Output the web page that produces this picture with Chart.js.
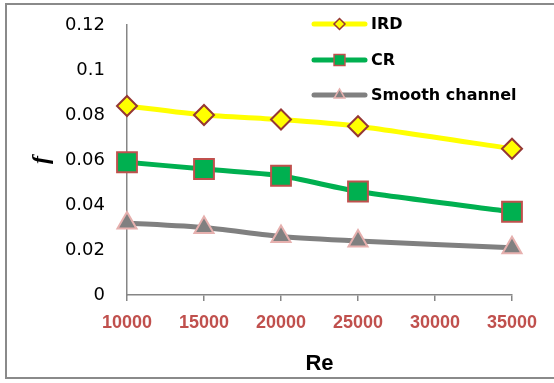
<!DOCTYPE html>
<html>
<head>
<meta charset="utf-8">
<script src="https://cdn.jsdelivr.net/npm/chart.js@4.4.0/dist/chart.umd.min.js"></script>
<style>
  html, body { margin: 0; padding: 0; background: #fff; overflow: hidden; }
  #wrap { position: relative; width: 554px; height: 383px; overflow: hidden; }
  #frame { position: absolute; left: 5px; top: 3px; width: 549px; height: 376px;
           border: 2px solid #8a8a8a; border-right: none; box-sizing: border-box; }
  canvas { position: absolute; left: 0; top: 0; }
</style>
</head>
<body>
<div id="wrap">
  <div id="frame"></div>
  <canvas id="chartCanvas" width="554" height="383"></canvas>
</div>
<script>
// --- data ---
const reynolds = [10000, 15000, 20000, 25000, 35000];
const irdF = [0.084, 0.080, 0.078, 0.075, 0.065];
const crF = [0.059, 0.056, 0.053, 0.046, 0.037];
const smoothF = [0.032, 0.030, 0.026, 0.024, 0.021];
const seriesNames = ['IRD', 'CR', 'Smooth channel'];
const yTickLabels = ['0', '0.02', '0.04', '0.06', '0.08', '0.1', '0.12'];

const toPoints = (ys) => reynolds.map((x, i) => ({ x: x, y: ys[i] }));

// legend drawn inside the plot, top right (Excel style)
const insideLegend = {
    id: 'insideLegend',
    afterDatasetsDraw(chart) {
        const ctx = chart.ctx;
        const rows = [24, 60, 95];
        chart.data.datasets.forEach((ds, i) => {
            const y = rows[i];
            ctx.save();
            ctx.strokeStyle = ds.borderColor;
            ctx.lineWidth = ds.borderWidth;
            ctx.lineCap = 'round';
            ctx.beginPath();
            ctx.moveTo(314, y);
            ctx.lineTo(365, y);
            ctx.stroke();
            ctx.fillStyle = ds.pointBackgroundColor;
            ctx.strokeStyle = ds.pointBorderColor;
            ctx.lineWidth = 1.5;
            Chart.helpers.drawPoint(ctx, {
                pointStyle: ds.pointStyle, radius: ds.pointRadius * 0.55,
                rotation: 0, borderWidth: 1.5
            }, 339.5, y);
            ctx.fillStyle = '#000';
            ctx.font = 'bold 16px "DejaVu Sans"';
            ctx.textBaseline = 'middle';
            ctx.fillText(ds.label, 371, y + 1);
            ctx.restore();
        });
    }
};

const ctxChart = document.getElementById('chartCanvas').getContext('2d');
new Chart(ctxChart, {
    type: 'line',
    data: {
        datasets: [
            { label: seriesNames[0], data: toPoints(irdF), borderColor: '#FFFF00', borderWidth: 5,
              pointStyle: 'rectRot', pointRadius: 10, pointBackgroundColor: '#FFFF00',
              pointBorderColor: '#953735', pointBorderWidth: 2, tension: 0.2, clip: false },
            { label: seriesNames[1], data: toPoints(crF), borderColor: '#00B050', borderWidth: 5,
              pointStyle: 'rect', pointRadius: 14, pointBackgroundColor: '#00B050',
              pointBorderColor: '#C0504D', pointBorderWidth: 2, tension: 0.2, clip: false },
            { label: seriesNames[2], data: toPoints(smoothF), borderColor: '#808080', borderWidth: 5,
              pointStyle: 'triangle', pointRadius: 11, pointBackgroundColor: '#808080',
              pointBorderColor: '#E6B0AE', pointBorderWidth: 2, tension: 0.2, clip: false }
        ]
    },
    options: {
        responsive: false,
        animation: false,
        layout: { padding: { top: 25, right: 42, left: 0, bottom: 0 } },
        plugins: { legend: { display: false }, tooltip: { enabled: false } },
        scales: {
            x: {
                type: 'linear', min: 10000, max: 35000,
                afterFit: (s) => { s.height = 88; s.paddingLeft = 0; s.paddingRight = 0; },
                border: { color: '#868686', width: 1.5 },
                grid: { display: true, drawOnChartArea: false, tickLength: 6, color: '#868686', lineWidth: 1.5 },
                ticks: { stepSize: 5000, color: '#C0504D', padding: 11,
                         font: { family: '"Liberation Sans"', size: 18, weight: 'bold' },
                         callback: (v) => String(v) },
                title: { display: true, text: 'Re', color: '#000', padding: { top: 0, bottom: 6 },
                         font: { family: '"Liberation Sans"', size: 22, weight: 'bold' } }
            },
            y: {
                min: 0, max: 0.12,
                afterFit: (s) => { s.width = 127; s.paddingTop = 0; s.paddingBottom = 0; },
                border: { color: '#868686', width: 1.5 },
                grid: { display: false, drawTicks: false },
                ticks: { stepSize: 0.02, color: '#000', padding: 22,
                         font: { family: '"DejaVu Sans"', size: 18 },
                         callback: (v, i) => yTickLabels[i] },
                title: { display: true, text: 'f', color: '#000', padding: { top: 27, bottom: 0 },
                         font: { family: '"Liberation Serif"', size: 24, weight: 'bold', style: 'italic' } }
            }
        }
    },
    plugins: [insideLegend]
});
</script>
</body>
</html>
